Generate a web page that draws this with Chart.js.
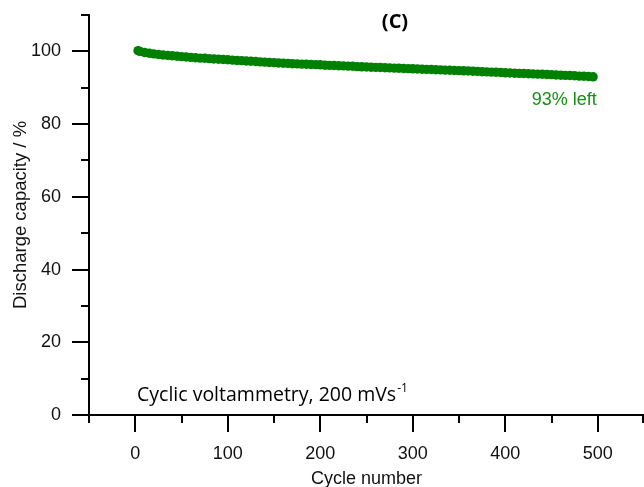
<!DOCTYPE html>
<html>
<head>
<meta charset="utf-8">
<script src="https://cdn.jsdelivr.net/npm/chart.js@4"></script>
<style>
  html, body { margin: 0; padding: 0; background: #fff; }
  #wrap { width: 644px; height: 487px; }
</style>
</head>
<body>
<div id="wrap"><canvas id="chartCiclos" width="644" height="487"></canvas></div>
<script>
// Datos (C)
const cycles = [
  3, 5, 10, 15, 20, 25, 30, 35, 40, 45, 50, 55, 60, 65, 70, 75, 80, 85, 90, 95,
  100, 105, 110, 115, 120, 125, 130, 135, 140, 145, 150, 155, 160, 165, 170, 175, 180, 185, 190, 195,
  200, 205, 210, 215, 220, 225, 230, 235, 240, 245, 250, 255, 260, 265, 270, 275, 280, 285, 290, 295,
  300, 305, 310, 315, 320, 325, 330, 335, 340, 345, 350, 355, 360, 365, 370, 375, 380, 385, 390, 395,
  400, 405, 410, 415, 420, 425, 430, 435, 440, 445, 450, 455, 460, 465, 470, 475, 480, 485, 490, 495
];
const capacity = [
  100.2, 100.0, 99.7, 99.5, 99.3, 99.15, 99.0, 98.9, 98.8, 98.65, 98.55, 98.45, 98.35, 98.25, 98.15, 98.1, 98.0, 97.9, 97.85, 97.75,
  97.7, 97.6, 97.5, 97.45, 97.35, 97.3, 97.2, 97.1, 97.05, 96.95, 96.9, 96.8, 96.75, 96.7, 96.6, 96.55, 96.5, 96.45, 96.4, 96.35,
  96.3, 96.2, 96.15, 96.1, 96.05, 96.0, 95.95, 95.9, 95.8, 95.75, 95.7, 95.65, 95.6, 95.55, 95.5, 95.45, 95.4, 95.35, 95.3, 95.25,
  95.2, 95.15, 95.1, 95.05, 95.0, 94.95, 94.9, 94.85, 94.8, 94.75, 94.7, 94.65, 94.6, 94.55, 94.5, 94.4, 94.35, 94.3, 94.25, 94.2,
  94.1, 94.05, 94.0, 93.95, 93.9, 93.85, 93.8, 93.75, 93.7, 93.65, 93.6, 93.5, 93.45, 93.4, 93.35, 93.3, 93.2, 93.15, 93.1, 93.0
];
const xMajorTicks = [0, 100, 200, 300, 400, 500];
const yMajorTicks = [0, 20, 40, 60, 80, 100];

const green = '#008000';
const axisFont = 'Liberation Sans';

// --- ticks mayores / menores hacia afuera + textos ---
const extrasPlugin = {
  id: 'extras',
  afterDraw(chart) {
    const { ctx, scales: { x, y } } = chart;
    ctx.save();
    ctx.strokeStyle = '#000';
    ctx.lineWidth = 2;
    ctx.beginPath();
    x.ticks.forEach(t => {
      const px = Math.min(Math.round(x.getPixelForValue(t.value)), chart.width - 1);
      const len = xMajorTicks.includes(t.value) ? 17 : 8;
      ctx.moveTo(px, y.bottom);
      ctx.lineTo(px, y.bottom + len);
    });
    y.ticks.forEach(t => {
      const py = Math.max(Math.round(y.getPixelForValue(t.value)), 1);
      const len = yMajorTicks.includes(t.value) ? 17 : 8;
      ctx.moveTo(x.left, py);
      ctx.lineTo(x.left - len, py);
    });
    ctx.stroke();

    // Titulo del panel
    ctx.fillStyle = '#000';
    ctx.font = 'bold 20px "Open Sans"';
    ctx.textAlign = 'center';
    ctx.textBaseline = 'middle';
    ctx.fillText('(C)', 395, 22);

    // Etiqueta 93% left
    ctx.fillStyle = '#178f17';
    ctx.font = '18px ' + axisFont;
    ctx.textAlign = 'right';
    ctx.fillText('93% left', x.getPixelForValue(499), y.getPixelForValue(86.6));

    // Condiciones
    ctx.fillStyle = '#000';
    ctx.textAlign = 'left';
    ctx.textBaseline = 'alphabetic';
    ctx.font = '19.5px "Open Sans"';
    const txt = 'Cyclic voltammetry, 200 mVs';
    const tx = 137, ty = 401;
    ctx.fillText(txt, tx, ty);
    const w = ctx.measureText(txt).width;
    ctx.font = '12px "Open Sans"';
    ctx.fillText('-1', tx + w + 1, ty - 9);
    ctx.restore();
  }
};

// quita el relleno automatico que Chart.js deja para las etiquetas
function fixPadding(s) {
  s.paddingTop = 0; s.paddingBottom = 0; s.paddingLeft = 0; s.paddingRight = 0;
}

new Chart(document.getElementById('chartCiclos'), {
  type: 'scatter',
  data: {
    datasets: [{
      label: 'Discharge capacity',
      data: cycles.map((c, i) => ({ x: c, y: capacity[i] })),
      backgroundColor: green,
      borderColor: green,
      borderWidth: 0,
      pointRadius: 4.7,
      showLine: false
    }]
  },
  options: {
    responsive: false,
    animation: false,
    layout: { autoPadding: false, padding: { top: 15, right: 0, left: 0, bottom: 0 } },
    plugins: { legend: { display: false }, tooltip: { enabled: false } },
    scales: {
      x: {
        type: 'linear',
        min: -50, max: 550,
        grid: { display: false, drawTicks: false },
        border: { display: true, color: '#000', width: 2 },
        ticks: {
          stepSize: 50, autoSkip: false, maxRotation: 0, padding: 28,
          color: '#111', font: { family: axisFont, size: 18 },
          callback: v => xMajorTicks.includes(v) ? String(v) : ''
        },
        title: {
          display: true, text: 'Cycle number', color: '#111',
          font: { family: axisFont, size: 18 }, padding: { top: 0, bottom: -3 }
        },
        afterFit: s => { s.height = 72; fixPadding(s); }
      },
      y: {
        min: 0, max: 110,
        grid: { display: false, drawTicks: false },
        border: { display: true, color: '#000', width: 2 },
        ticks: {
          stepSize: 10, autoSkip: false, padding: 28,
          color: '#111', font: { family: axisFont, size: 18 },
          callback: v => yMajorTicks.includes(v) ? String(v) : ''
        },
        title: {
          display: true, text: 'Discharge capacity / %', color: '#111',
          font: { family: axisFont, size: 18.5 }, padding: { top: 10, bottom: 0 }
        },
        afterFit: s => { s.width = 89; fixPadding(s); }
      }
    }
  },
  plugins: [extrasPlugin]
});
</script>
</body>
</html>
